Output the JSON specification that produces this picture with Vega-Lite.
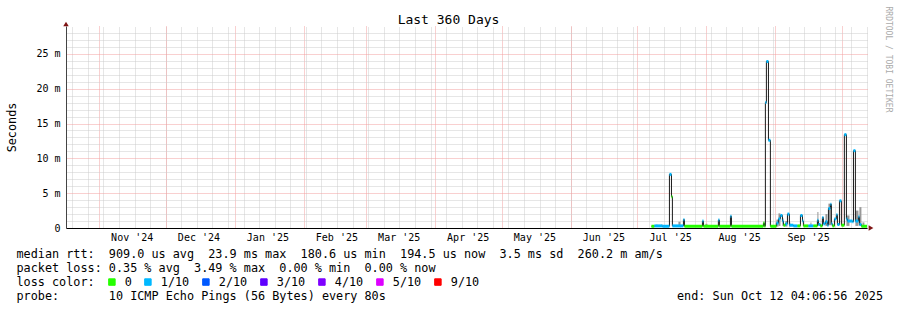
{
  "$schema": "https://vega.github.io/schema/vega-lite/v6.json",
  "width": 801,
  "height": 202,
  "autosize": {"type": "none"},
  "padding": {"left": 66, "top": 26, "right": 30, "bottom": 82},
  "background": "#ffffff",
  "config": {"view": {"stroke": null}},
  "datasets": {
    "rtt": [
      {"t":"2025-07-07T07:00","t2":"2025-07-08T15:00","rtt":0.25,"loss":"0"},
      {"t":"2025-07-08T15:00","t2":"2025-07-12T05:00","rtt":0.3,"loss":"1/10"},
      {"t":"2025-07-12T05:00","t2":"2025-07-15T09:00","rtt":0.25,"loss":"1/10"},
      {"t":"2025-07-15T09:00","t2":"2025-07-16T07:00","rtt":7.7,"loss":"1/10"},
      {"t":"2025-07-16T07:00","t2":"2025-07-16T17:00","rtt":4.5,"loss":"0"},
      {"t":"2025-07-16T17:00","t2":"2025-07-21T16:00","rtt":0.3,"loss":"1/10"},
      {"t":"2025-07-21T16:00","t2":"2025-07-22T03:00","rtt":1.2,"loss":"1/10"},
      {"t":"2025-07-22T03:00","t2":"2025-07-30T05:00","rtt":0.25,"loss":"0"},
      {"t":"2025-07-30T05:00","t2":"2025-07-30T16:00","rtt":1.0,"loss":"1/10"},
      {"t":"2025-07-30T16:00","t2":"2025-08-06T09:00","rtt":0.25,"loss":"0"},
      {"t":"2025-08-06T09:00","t2":"2025-08-06T20:00","rtt":1.15,"loss":"1/10"},
      {"t":"2025-08-06T20:00","t2":"2025-08-11T19:00","rtt":0.25,"loss":"0"},
      {"t":"2025-08-11T19:00","t2":"2025-08-12T06:00","rtt":1.7,"loss":"1/10"},
      {"t":"2025-08-12T06:00","t2":"2025-08-26T15:00","rtt":0.25,"loss":"0"},
      {"t":"2025-08-26T15:00","t2":"2025-08-27T02:00","rtt":0.7,"loss":"0"},
      {"t":"2025-08-27T02:00","t2":"2025-08-27T12:00","rtt":0.25,"loss":"0"},
      {"t":"2025-08-27T12:00","t2":"2025-08-27T23:00","rtt":18.0,"loss":"1/10"},
      {"t":"2025-08-27T23:00","t2":"2025-08-28T21:00","rtt":23.9,"loss":"1/10"},
      {"t":"2025-08-28T21:00","t2":"2025-08-29T18:00","rtt":12.6,"loss":"1/10"},
      {"t":"2025-08-29T18:00","t2":"2025-09-01T11:00","rtt":0.25,"loss":"0"},
      {"t":"2025-09-01T11:00","t2":"2025-09-02T09:00","rtt":0.7,"loss":"1/10"},
      {"t":"2025-09-02T09:00","t2":"2025-09-03T06:00","rtt":1.3,"loss":"1/10"},
      {"t":"2025-09-03T06:00","t2":"2025-09-04T04:00","rtt":1.8,"loss":"1/10"},
      {"t":"2025-09-04T04:00","t2":"2025-09-04T15:00","rtt":1.0,"loss":"1/10"},
      {"t":"2025-09-04T15:00","t2":"2025-09-05T12:00","rtt":0.4,"loss":"0"},
      {"t":"2025-09-05T12:00","t2":"2025-09-06T10:00","rtt":0.6,"loss":"1/10"},
      {"t":"2025-09-06T10:00","t2":"2025-09-07T07:00","rtt":2.0,"loss":"1/10"},
      {"t":"2025-09-07T07:00","t2":"2025-09-09T02:00","rtt":0.4,"loss":"1/10"},
      {"t":"2025-09-09T02:00","t2":"2025-09-10T22:00","rtt":0.3,"loss":"1/10"},
      {"t":"2025-09-10T22:00","t2":"2025-09-12T06:00","rtt":0.3,"loss":"0"},
      {"t":"2025-09-12T06:00","t2":"2025-09-13T04:00","rtt":1.8,"loss":"1/10"},
      {"t":"2025-09-13T04:00","t2":"2025-09-13T14:00","rtt":1.0,"loss":"1/10"},
      {"t":"2025-09-13T14:00","t2":"2025-09-15T20:00","rtt":0.3,"loss":"0"},
      {"t":"2025-09-15T20:00","t2":"2025-09-18T02:00","rtt":0.3,"loss":"1/10"},
      {"t":"2025-09-18T02:00","t2":"2025-09-19T21:00","rtt":0.3,"loss":"0"},
      {"t":"2025-09-19T21:00","t2":"2025-09-20T08:00","rtt":1.1,"loss":"1/10"},
      {"t":"2025-09-20T08:00","t2":"2025-09-21T06:00","rtt":0.5,"loss":"1/10"},
      {"t":"2025-09-21T06:00","t2":"2025-09-22T03:00","rtt":0.3,"loss":"0"},
      {"t":"2025-09-22T03:00","t2":"2025-09-22T14:00","rtt":1.5,"loss":"1/10"},
      {"t":"2025-09-22T14:00","t2":"2025-09-23T12:00","rtt":0.6,"loss":"1/10"},
      {"t":"2025-09-23T12:00","t2":"2025-09-24T09:00","rtt":0.9,"loss":"1/10"},
      {"t":"2025-09-24T09:00","t2":"2025-09-24T20:00","rtt":0.4,"loss":"1/10"},
      {"t":"2025-09-24T20:00","t2":"2025-09-25T18:00","rtt":2.8,"loss":"1/10"},
      {"t":"2025-09-25T18:00","t2":"2025-09-26T04:00","rtt":3.4,"loss":"1/10"},
      {"t":"2025-09-26T04:00","t2":"2025-09-26T15:00","rtt":0.6,"loss":"1/10"},
      {"t":"2025-09-26T15:00","t2":"2025-09-27T13:00","rtt":0.3,"loss":"0"},
      {"t":"2025-09-27T13:00","t2":"2025-09-28T10:00","rtt":1.3,"loss":"1/10"},
      {"t":"2025-09-28T10:00","t2":"2025-09-28T21:00","rtt":1.9,"loss":"1/10"},
      {"t":"2025-09-28T21:00","t2":"2025-09-29T19:00","rtt":0.5,"loss":"1/10"},
      {"t":"2025-09-29T19:00","t2":"2025-09-30T16:00","rtt":3.9,"loss":"1/10"},
      {"t":"2025-09-30T16:00","t2":"2025-10-02T00:00","rtt":0.4,"loss":"0"},
      {"t":"2025-10-02T00:00","t2":"2025-10-02T22:00","rtt":13.4,"loss":"1/10"},
      {"t":"2025-10-02T22:00","t2":"2025-10-03T09:00","rtt":1.3,"loss":"1/10"},
      {"t":"2025-10-03T09:00","t2":"2025-10-05T15:00","rtt":1.0,"loss":"1/10"},
      {"t":"2025-10-05T15:00","t2":"2025-10-06T02:00","rtt":0.9,"loss":"1/10"},
      {"t":"2025-10-06T02:00","t2":"2025-10-06T23:00","rtt":11.1,"loss":"1/10"},
      {"t":"2025-10-06T23:00","t2":"2025-10-08T08:00","rtt":1.0,"loss":"1/10"},
      {"t":"2025-10-08T08:00","t2":"2025-10-08T18:00","rtt":1.6,"loss":"1/10"},
      {"t":"2025-10-08T18:00","t2":"2025-10-09T16:00","rtt":0.5,"loss":"1/10"},
      {"t":"2025-10-09T16:00","t2":"2025-10-12T04:00","rtt":0.25,"loss":"0"},
      {"t":"2025-10-12T04:00","t2":"2025-10-12T04:00","rtt":0.25,"loss":"0"}
    ],
    "smoke": [
      {"t":"2025-07-09T13:00","t2":"2025-07-09T23:00","lo":0.2,"hi":0.5},
      {"t":"2025-07-11T19:00","t2":"2025-07-12T05:00","lo":0.2,"hi":0.5},
      {"t":"2025-07-19T10:00","t2":"2025-07-20T08:00","lo":0.2,"hi":0.9},
      {"t":"2025-07-31T13:00","t2":"2025-08-01T11:00","lo":0.2,"hi":0.6},
      {"t":"2025-08-26T15:00","t2":"2025-08-27T02:00","lo":0.2,"hi":0.9},
      {"t":"2025-09-01T11:00","t2":"2025-09-02T09:00","lo":0.2,"hi":1.2},
      {"t":"2025-09-02T09:00","t2":"2025-09-03T06:00","lo":0.3,"hi":2.1},
      {"t":"2025-09-04T04:00","t2":"2025-09-04T15:00","lo":0.3,"hi":1.4},
      {"t":"2025-09-05T12:00","t2":"2025-09-06T10:00","lo":0.2,"hi":1.0},
      {"t":"2025-09-07T07:00","t2":"2025-09-07T18:00","lo":0.2,"hi":0.8},
      {"t":"2025-09-16T18:00","t2":"2025-09-17T05:00","lo":0.2,"hi":0.8},
      {"t":"2025-09-19T21:00","t2":"2025-09-20T08:00","lo":0.3,"hi":2.3},
      {"t":"2025-09-23T12:00","t2":"2025-09-24T09:00","lo":0.3,"hi":2.0},
      {"t":"2025-09-24T20:00","t2":"2025-09-26T04:00","lo":0.4,"hi":3.5},
      {"t":"2025-10-02T22:00","t2":"2025-10-04T07:00","lo":0.3,"hi":1.8},
      {"t":"2025-10-06T23:00","t2":"2025-10-08T08:00","lo":0.3,"hi":2.5},
      {"t":"2025-10-08T18:00","t2":"2025-10-09T16:00","lo":0.3,"hi":3.0},
      {"t":"2025-10-10T03:00","t2":"2025-10-11T00:00","lo":0.2,"hi":0.8}
    ]
  },
  "resolve": {"axis": {"x": "independent", "y": "independent"}},
  "layer": [
    {
      "data": {"name": "smoke"},
      "mark": {"type": "rect", "fill": "#999999"},
      "encoding": {
        "x": {"field": "t", "type": "temporal",
          "scale": {"domain": [{"year":2024,"month":10,"date":17,"hours":4,"minutes":7},{"year":2025,"month":10,"date":12,"hours":4,"minutes":7}]},
          "axis": {"orient": "top", "tickCount": {"interval": "week", "step": 1}, "grid": true, "gridColor": "#cccccc", "gridDash": [1,1], "gridWidth": 1, "labels": false, "ticks": false, "domain": false,
            "title": "Last 360 Days", "titleFont": "DejaVu Sans Mono", "titleFontSize": 13, "titleFontWeight": "normal", "titleColor": "#000000", "titleAlign": "center", "titleBaseline": "alphabetic", "titleAnchor": "middle", "titleX": 382, "titleY": -2.7}},
        "x2": {"field": "t2"},
        "y": {"field": "lo", "type": "quantitative",
          "scale": {"domain": [0, 29], "nice": false, "zero": false},
          "axis": {"orient": "right", "values": [1,2,3,4,6,7,8,9,11,12,13,14,16,17,18,19,21,22,23,24,26,27,28], "grid": true, "gridColor": "#cccccc", "gridDash": [1,1], "gridWidth": 1, "labels": false, "ticks": false, "domain": false,
            "title": "RRDTOOL / TOBI OETIKER", "titleFont": "DejaVu Sans Mono", "titleFontSize": 8, "titleFontWeight": "normal", "titleColor": "#aaaaaa", "titleAngle": 90, "titleAlign": "center", "titleBaseline": "middle", "titleX": 20, "titleY": 33}},
        "y2": {"field": "hi"}
      }
    },
    {
      "data": {"name": "rtt"},
      "mark": {"type": "line", "interpolate": "step-after", "color": "#1a1a1a", "strokeWidth": 1},
      "encoding": {
        "x": {"field": "t", "type": "temporal",
          "scale": {"domain": [{"year":2024,"month":10,"date":17,"hours":4,"minutes":7},{"year":2025,"month":10,"date":12,"hours":4,"minutes":7}]},
          "axis": {"orient": "bottom",
            "values": [{"year":2024,"month":11,"date":1},{"year":2024,"month":12,"date":1},{"year":2025,"month":1,"date":1},{"year":2025,"month":2,"date":1},{"year":2025,"month":3,"date":1},{"year":2025,"month":4,"date":1},{"year":2025,"month":5,"date":1},{"year":2025,"month":6,"date":1},{"year":2025,"month":7,"date":1},{"year":2025,"month":8,"date":1},{"year":2025,"month":9,"date":1},{"year":2025,"month":10,"date":1}],
            "format": "%b '%y",
            "labelExpr": "month(datum.value) == 9 && year(datum.value) == 2025 ? '' : datum.label",
            "labelOffset": 32.7, "labelFont": "DejaVu Sans Mono", "labelFontSize": 10, "labelColor": "#000000", "labelPadding": 4, "labelFlush": false, "labelOverlap": false, "labelBound": false,
            "ticks": false, "domain": true, "domainColor": "#000000", "domainWidth": 1,
            "grid": true, "gridColor": "#f2a0a0", "gridDash": [1,1], "gridWidth": 1,
            "title": ["median rtt:\u00a0 909.0 us avg\u00a0 23.9 ms max\u00a0 180.6 us min\u00a0 194.5 us now\u00a0 3.5 ms sd\u00a0 260.2 m am/s", "packet loss: 0.35 % avg\u00a0 3.49 % max\u00a0 0.00 % min\u00a0 0.00 % now", "loss color:", "probe:\u00a0\u00a0\u00a0\u00a0\u00a0\u00a0\u00a010 ICMP Echo Pings (56 Bytes) every 80s\u00a0\u00a0\u00a0\u00a0\u00a0\u00a0\u00a0\u00a0\u00a0\u00a0\u00a0\u00a0\u00a0\u00a0\u00a0\u00a0\u00a0\u00a0\u00a0\u00a0\u00a0\u00a0\u00a0\u00a0\u00a0\u00a0\u00a0\u00a0\u00a0\u00a0\u00a0\u00a0\u00a0\u00a0\u00a0\u00a0\u00a0\u00a0\u00a0\u00a0\u00a0end: Sun Oct 12 04:06:56 2025"],
            "titleFont": "DejaVu Sans Mono", "titleFontSize": 11.8, "titleFontWeight": "normal", "titleColor": "#000000", "titleAnchor": "start", "titleAlign": "left", "titleBaseline": "alphabetic", "titleX": -50, "titleY": 29.5, "titleLineHeight": 14}},
        "y": {"field": "rtt", "type": "quantitative",
          "scale": {"domain": [0, 29], "nice": false, "zero": false},
          "axis": {"orient": "left", "values": [0,5,10,15,20,25],
            "labelExpr": "datum.value == 0 ? '0\u00a0\u00a0' : datum.value + ' m'",
            "labelFont": "DejaVu Sans Mono", "labelFontSize": 10, "labelColor": "#000000", "labelPadding": 6, "labelAlign": "right", "labelBaseline": "middle",
            "ticks": false, "domain": true, "domainColor": "#444444", "domainWidth": 1,
            "grid": true, "gridColor": "#f2a0a0", "gridDash": [1,1], "gridWidth": 1,
            "title": "Seconds", "titleFont": "DejaVu Sans Mono", "titleFontSize": 11.8, "titleFontWeight": "normal", "titleColor": "#000000", "titleAngle": -90, "titleAlign": "center", "titleBaseline": "middle", "titleX": -55, "titleY": 101}}
      }
    },
    {
      "data": {"name": "rtt"},
      "mark": {"type": "rule", "strokeWidth": 3, "strokeCap": "butt"},
      "encoding": {
        "x": {"field": "t", "type": "temporal",
          "scale": {"domain": [{"year":2024,"month":10,"date":17,"hours":4,"minutes":7},{"year":2025,"month":10,"date":12,"hours":4,"minutes":7}]},
          "axis": null},
        "x2": {"field": "t2"},
        "y": {"field": "rtt", "type": "quantitative", "scale": {"domain": [0, 29], "nice": false, "zero": false}, "axis": null},
        "color": {"field": "loss", "type": "nominal",
          "scale": {"domain": ["0","1/10","2/10","3/10","4/10","5/10","9/10"], "range": ["#26ff00","#00b8ff","#0059ff","#5e00ff","#7e00ff","#dd00ff","#ff0000"]},
          "legend": {"orient": "none", "legendX": 40, "legendY": 250, "direction": "horizontal",
            "title": null,
            "symbolType": "square", "symbolSize": 42, "symbolStrokeColor": "#000000", "symbolStrokeWidth": 1, "symbolOpacity": 1,
            "labelFont": "DejaVu Sans Mono", "labelFontSize": 11.8, "labelColor": "#000000", "labelOffset": 7, "columnPadding": 10,
            "encode": {"symbols": {"update": {"fill": {"scale": "color", "field": "value"}, "stroke": {"value": "#000000"}, "strokeWidth": {"value": 1}, "opacity": {"value": 1}}}}}}
      }
    },
    {
      "data": {"values": [{}]},
      "mark": {"type": "point", "shape": "triangle-up", "filled": true, "color": "#7f1414", "size": 30, "opacity": 1, "yOffset": -2},
      "encoding": {
        "x": {"datum": {"year":2024,"month":10,"date":17,"hours":4,"minutes":7}, "type": "temporal",
          "scale": {"domain": [{"year":2024,"month":10,"date":17,"hours":4,"minutes":7},{"year":2025,"month":10,"date":12,"hours":4,"minutes":7}]}, "axis": null},
        "y": {"datum": 29, "type": "quantitative", "scale": {"domain": [0, 29], "nice": false, "zero": false}, "axis": null}
      }
    },
    {
      "data": {"values": [{}]},
      "mark": {"type": "point", "shape": "triangle-right", "filled": true, "color": "#7f1414", "size": 30, "opacity": 1, "xOffset": 4},
      "encoding": {
        "x": {"datum": {"year":2025,"month":10,"date":12,"hours":4,"minutes":7}, "type": "temporal",
          "scale": {"domain": [{"year":2024,"month":10,"date":17,"hours":4,"minutes":7},{"year":2025,"month":10,"date":12,"hours":4,"minutes":7}]}, "axis": null},
        "y": {"datum": 0, "type": "quantitative", "scale": {"domain": [0, 29], "nice": false, "zero": false}, "axis": null}
      }
    }
  ]
}
